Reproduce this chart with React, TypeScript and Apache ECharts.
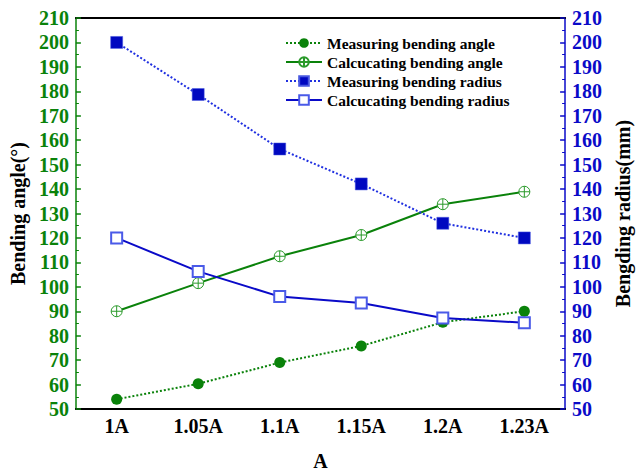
import React, { useEffect, useRef } from "react";
import * as echarts from "echarts";

const categories = ["1A", "1.05A", "1.1A", "1.15A", "1.2A", "1.23A"];
const measuringAngle = [54, 60.3, 69, 75.8, 85.5, 90];
const calculatingAngle = [90, 101.5, 112.5, 121.2, 133.8, 138.9];
const measuringRadius = [200, 178.7, 156.4, 142.1, 126, 120];
const calculatingRadius = [120, 106.3, 96, 93.4, 87.2, 85.3];
const seriesNames = [
  "Measuring bending angle",
  "Calcucating bending angle",
  "Measuring bending radius",
  "Calcucating bending radius",
];

const FONT = "'Liberation Serif', 'Times New Roman', serif";
const GREEN = "#0a820a";
const BLUE = "#0a0ac8";

const circlePlus =
  "path://M0,10 A10,10 0 1,1 20,10 A10,10 0 1,1 0,10 Z M10,0 L10,20 M0,10 L20,10";

export default function App() {
  const ref = useRef<HTMLDivElement>(null);
  useEffect(() => {
    if (!ref.current) return;
    const chart = echarts.init(ref.current, undefined, { renderer: "svg" });
    const yAxisCommon = (color: string, name: string, pos: "left" | "right") => ({
      type: "value",
      position: pos,
      min: 50,
      max: 210,
      interval: 10,
      name,
      nameLocation: "middle",
      nameGap: pos === "left" ? 43 : 45,
      nameTextStyle: {
        fontFamily: FONT,
        fontWeight: "bold",
        fontSize: 20,
        color: "#000",
      },
      axisLine: { show: true, lineStyle: { color, width: 1.5 } },
      axisTick: { show: true, inside: true, length: 5, lineStyle: { color, width: 1.5 } },
      minorTick: { show: true, splitNumber: 2, length: 3, lineStyle: { color, width: 1 } },
      splitLine: { show: false },
      axisLabel: {
        fontFamily: FONT,
        fontWeight: "bold",
        fontSize: 20,
        color,
        margin: 7,
      },
    });
    chart.setOption({
      animation: false,
      backgroundColor: "#fff",
      grid: { left: 74, right: 65, top: 18, bottom: 60, containLabel: false },
      legend: {
        orient: "vertical",
        left: 280,
        top: 30,
        itemGap: 3,
        itemWidth: 36,
        itemHeight: 12,
        data: seriesNames,
        textStyle: {
          fontFamily: FONT,
          fontWeight: "bold",
          fontSize: 15.5,
          color: "#000",
        },
      },
      xAxis: [
        {
          type: "category",
          data: categories,
          position: "bottom",
          boundaryGap: true,
          name: "A",
          nameLocation: "middle",
          nameGap: 42,
          nameTextStyle: {
            fontFamily: FONT,
            fontWeight: "bold",
            fontSize: 20,
            color: "#000",
          },
          axisLine: { lineStyle: { color: "#000", width: 2 } },
          axisTick: { inside: true, alignWithLabel: true, length: 5, lineStyle: { color: "#000", width: 1.5 } },
          axisLabel: {
            fontFamily: FONT,
            fontWeight: "bold",
            fontSize: 20,
            color: "#000",
            margin: 7,
          },
        },
        {
          type: "category",
          data: categories,
          position: "top",
          boundaryGap: true,
          axisLine: { lineStyle: { color: "#000", width: 2 } },
          axisTick: { inside: true, alignWithLabel: true, length: 5, lineStyle: { color: "#000", width: 1.5 } },
          axisLabel: { show: false },
        },
      ],
      yAxis: [
        yAxisCommon(GREEN, "Bending angle(°)", "left"),
        yAxisCommon(BLUE, "Bengding radius(mm)", "right"),
      ],
      series: [
        {
          name: seriesNames[0],
          type: "line",
          yAxisIndex: 0,
          data: measuringAngle,
          symbol: "circle",
          symbolSize: 11,
          itemStyle: { color: GREEN },
          lineStyle: { color: GREEN, width: 2, type: [2, 2] },
        },
        {
          name: seriesNames[1],
          type: "line",
          yAxisIndex: 0,
          data: calculatingAngle,
          symbol: circlePlus,
          symbolSize: 11,
          itemStyle: { color: "#fff", borderColor: "#2a9a2a", borderWidth: 1 },
          lineStyle: { color: GREEN, width: 2 },
        },
        {
          name: seriesNames[2],
          type: "line",
          yAxisIndex: 1,
          data: measuringRadius,
          symbol: "rect",
          symbolSize: 12,
          itemStyle: { color: "#0008c0", borderColor: "#4858e0", borderWidth: 0.5 },
          lineStyle: { color: "#2030e0", width: 2, type: [2, 2] },
        },
        {
          name: seriesNames[3],
          type: "line",
          yAxisIndex: 1,
          data: calculatingRadius,
          symbol: "emptyRect",
          symbolSize: 11,
          itemStyle: { color: "#4a5ae8", borderColor: "#4a5ae8", borderWidth: 1.5 },
          lineStyle: { color: BLUE, width: 2 },
        },
      ],
    });
    return () => chart.dispose();
  }, []);
  return (
    <div
      ref={ref}
      style={{ position: "fixed", left: 0, top: 0, width: 641, height: 476 }}
    />
  );
}
